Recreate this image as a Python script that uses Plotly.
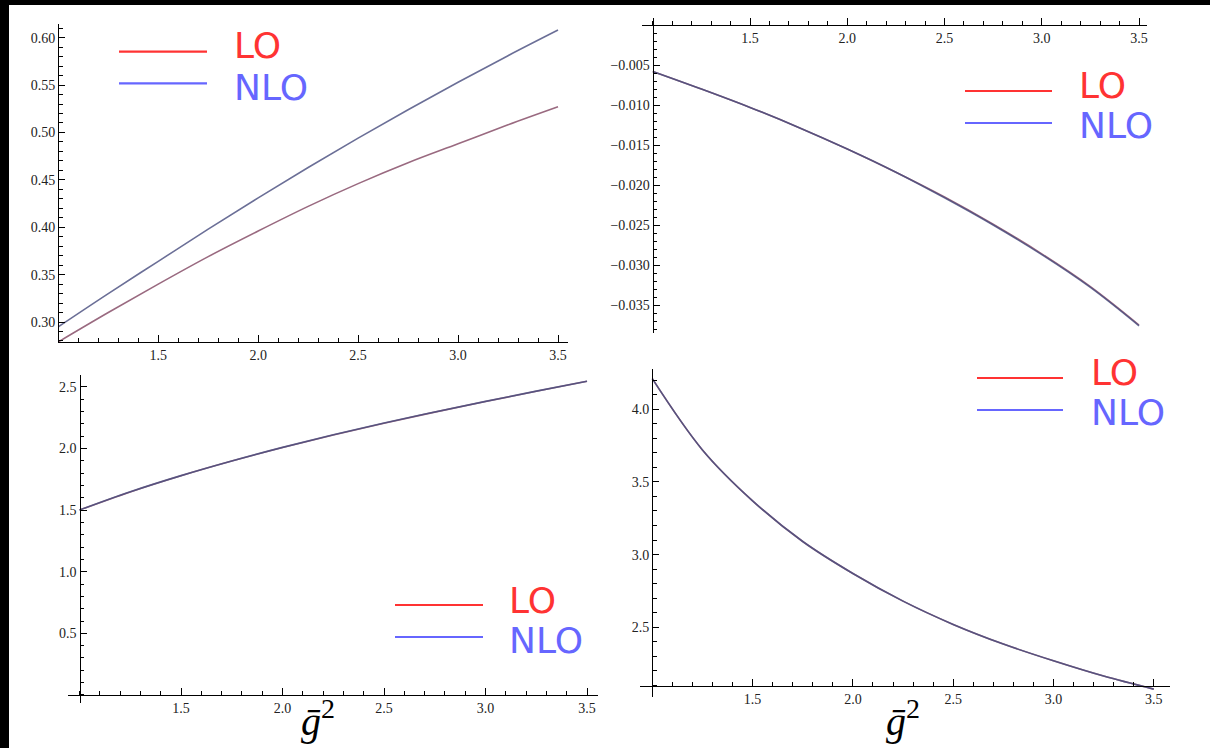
import plotly.graph_objects as go

W, H = 1210, 748

# ---------------- data ----------------
g2 = [1.0, 1.25, 1.5, 1.75, 2.0, 2.25, 2.5, 2.75, 3.0, 3.25, 3.5]

tl_lo = [0.279, 0.310, 0.340, 0.369, 0.396, 0.422, 0.446, 0.468, 0.488, 0.508, 0.527]
tl_nlo = [0.295, 0.330, 0.364, 0.398, 0.431, 0.463, 0.494, 0.524, 0.553, 0.581, 0.608]

tr_lo = [-0.0058, -0.0080, -0.0103, -0.0128, -0.0155, -0.0184, -0.0215, -0.0249, -0.0286, -0.0327, -0.0375]
tr_nlo = [-0.0058, -0.0080, -0.0103, -0.0128, -0.0155, -0.0184, -0.0216, -0.0250, -0.0287, -0.0328, -0.0376]

bl_lo = [1.500, 1.647, 1.778, 1.897, 2.007, 2.109, 2.204, 2.294, 2.380, 2.463, 2.544]
bl_nlo = [1.500, 1.648, 1.779, 1.898, 2.008, 2.110, 2.205, 2.295, 2.381, 2.464, 2.545]

br_lo = [4.21, 3.72, 3.37, 3.09, 2.87, 2.68, 2.52, 2.385, 2.27, 2.165, 2.075]
br_nlo = [4.21, 3.72, 3.37, 3.09, 2.87, 2.68, 2.52, 2.385, 2.27, 2.165, 2.075]

x_tickvals = [1.5, 2.0, 2.5, 3.0, 3.5]
x_ticktext = ["1.5", "2.0", "2.5", "3.0", "3.5"]

tl_tickvals = [0.30, 0.35, 0.40, 0.45, 0.50, 0.55, 0.60]
tl_ticktext = ["0.30", "0.35", "0.40", "0.45", "0.50", "0.55", "0.60"]
tr_tickvals = [-0.005, -0.010, -0.015, -0.020, -0.025, -0.030, -0.035]
tr_ticktext = ["\u22120.005", "\u22120.010", "\u22120.015", "\u22120.020", "\u22120.025", "\u22120.030", "\u22120.035"]
bl_tickvals = [0.5, 1.0, 1.5, 2.0, 2.5]
bl_ticktext = ["0.5", "1.0", "1.5", "2.0", "2.5"]
br_tickvals = [2.5, 3.0, 3.5, 4.0]
br_ticktext = ["2.5", "3.0", "3.5", "4.0"]

series_names = ["LO", "NLO"]
x_title = "<i>\u1e21</i><sup>2</sup>"

# ---------------- layout geometry (pixels) ----------------
panels = [
    dict(xs=(58.3, 568), ys=(24.3, 342), xr=(1.0, 3.55), yr=(0.2789, 0.6141),
         cross=(1.0, 0.2789), ymin=0.01, ytv=tl_tickvals, ytt=tl_ticktext, lo=tl_lo, nlo=tl_nlo),
    dict(xs=(641.7, 1147), ys=(18, 333), xr=(0.943, 3.541), yr=(-0.0385, 0.000875),
         cross=(1.0, 0.0), ymin=0.001, ytv=tr_tickvals, ytt=tr_ticktext, lo=tr_lo, nlo=tr_nlo),
    dict(xs=(68, 598), ys=(375, 703), xr=(0.9433, 3.554), yr=(-0.065, 2.595),
         cross=(1.0, 0.0), ymin=0.1, ytv=bl_tickvals, ytt=bl_ticktext, lo=bl_lo, nlo=bl_nlo),
    dict(xs=(640, 1170), ys=(369, 697), xr=(0.9387, 3.581), yr=(2.0207, 4.2765),
         cross=(1.0, 2.0963), ymin=0.1, ytv=br_tickvals, ytt=br_ticktext, lo=br_lo, nlo=br_nlo),
]

LO_LINE = "#9a6a80"
NLO_LINE = "rgba(70,75,125,0.8)"
LEG_RED = "#ff3333"
LEG_BLUE = "#6666ff"
TICKFONT = dict(family="Liberation Serif, Times New Roman, serif", size=14, color="#222")

fig = go.Figure()
layout = dict(width=W, height=H, margin=dict(l=0, r=0, t=0, b=0),
              paper_bgcolor="black", plot_bgcolor="rgba(0,0,0,0)", showlegend=False)

for i, p in enumerate(panels):
    k = "" if i == 0 else str(i + 1)
    xd = [p["xs"][0] / W, p["xs"][1] / W]
    yd = [1 - p["ys"][1] / H, 1 - p["ys"][0] / H]
    cx, cy = p["cross"]
    xpos = xd[0] + (cx - p["xr"][0]) / (p["xr"][1] - p["xr"][0]) * (xd[1] - xd[0])
    ypos = yd[0] + (cy - p["yr"][0]) / (p["yr"][1] - p["yr"][0]) * (yd[1] - yd[0])
    layout["xaxis" + k] = dict(
        domain=xd, range=list(p["xr"]), anchor="free", position=ypos,
        showline=True, linecolor="black", linewidth=1.3, showgrid=False, zeroline=False,
        tickmode="array", tickvals=x_tickvals, ticktext=x_ticktext,
        ticks="inside", ticklen=7, tickwidth=1.2, tickcolor="black", tickfont=TICKFONT,
        minor=dict(tickmode="linear", tick0=1.0, dtick=0.1, ticks="inside", ticklen=4,
                   tickwidth=1, tickcolor="black", showgrid=False),
    )
    layout["yaxis" + k] = dict(
        domain=yd, range=list(p["yr"]), anchor="free", position=xpos,
        showline=True, linecolor="black", linewidth=1.3, showgrid=False, zeroline=False,
        tickmode="array", tickvals=p["ytv"], ticktext=p["ytt"],
        ticks="inside", ticklen=6, tickwidth=1.2, tickcolor="black", tickfont=TICKFONT,
        minor=dict(tickmode="linear", tick0=0.0, dtick=p["ymin"], ticks="inside", ticklen=3.5,
                   tickwidth=1, tickcolor="black", showgrid=False),
    )
    fig.add_trace(go.Scatter(x=g2, y=p["lo"], mode="lines", name=series_names[0],
                             line=dict(color=LO_LINE, width=1.6, shape="spline"),
                             xaxis="x" + k, yaxis="y" + k))
    fig.add_trace(go.Scatter(x=g2, y=p["nlo"], mode="lines", name=series_names[1],
                             line=dict(color=NLO_LINE, width=1.6, shape="spline"),
                             xaxis="x" + k, yaxis="y" + k))

# white page inside a black frame (top/left)
shapes = [dict(type="rect", xref="paper", yref="paper", x0=9 / W, x1=1, y0=0, y1=1 - 5 / H,
               fillcolor="white", line=dict(width=0), layer="below")]
annotations = []

# legends: (line x0, line x1, red line y, blue line y, text x, LO text y, NLO text y)
legends = [
    (119, 207, 51.7, 83.3, 232, 45.5, 87),
    (965, 1052, 91, 123, 1077, 85, 125),
    (395, 483, 605, 637, 507, 600, 640),
    (977, 1063, 378, 410, 1089, 372, 412),
]
for (lx0, lx1, ry, by, tx, ty1, ty2) in legends:
    for yy, col in ((ry, LEG_RED), (by, LEG_BLUE)):
        shapes.append(dict(type="line", xref="paper", yref="paper",
                           x0=lx0 / W, x1=lx1 / W, y0=1 - yy / H, y1=1 - yy / H,
                           line=dict(color=col, width=2.2)))
    for txt, yy, col in ((series_names[0], ty1, LEG_RED), (series_names[1], ty2, LEG_BLUE)):
        annotations.append(dict(text=txt, xref="paper", yref="paper", x=tx / W, y=1 - yy / H,
                                xanchor="left", yanchor="middle", showarrow=False,
                                font=dict(family="DejaVu Sans, Verdana, sans-serif", size=36, color=col)))

# x titles
for cx in (318, 903):
    annotations.append(dict(text=x_title, xref="paper", yref="paper", x=cx / W, y=1 - 718 / H,
                            xanchor="center", yanchor="middle", showarrow=False,
                            font=dict(family="Liberation Serif, Times New Roman, serif", size=40, color="black")))

layout["shapes"] = shapes
layout["annotations"] = annotations
fig.update_layout(**layout)
fig.write_html("out.html", config={"displayModeBar": False},
               post_script="document.body.style.margin='0';document.body.style.padding='0';"
                           "document.body.style.overflow='hidden';document.body.style.background='black';")
